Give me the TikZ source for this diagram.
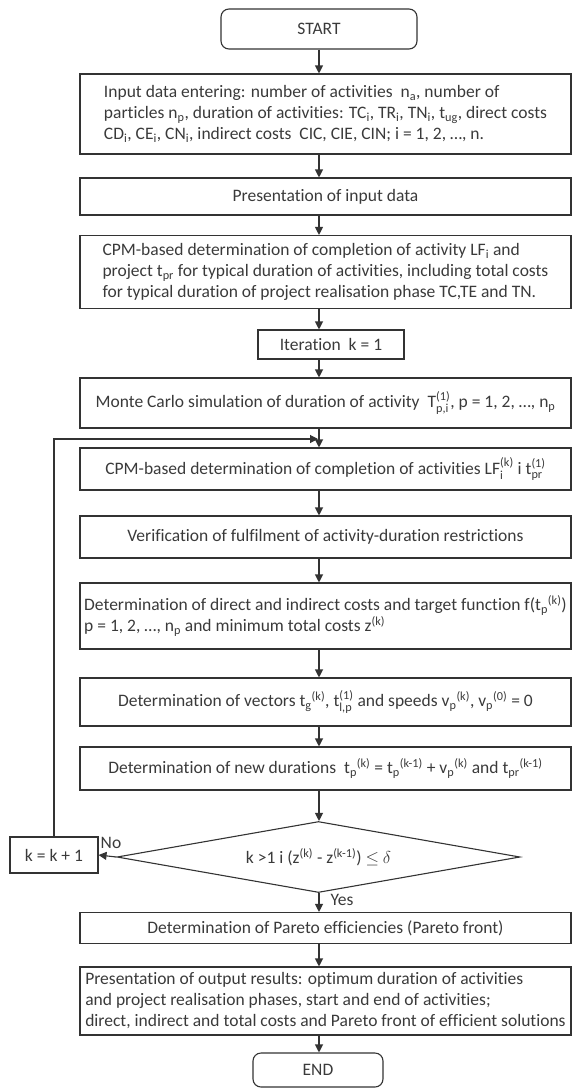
\documentclass[tikz,border=0pt]{standalone}
\usepackage{amsmath}
\usepackage{fontspec}
\setmainfont{Carlito}[Ligatures={TeX,NoCommon}]
\usetikzlibrary{arrows.meta,shapes.geometric}
\definecolor{ink}{HTML}{333333}
\definecolor{txt}{HTML}{3A3A3A}
\newcommand{\lo}[1]{\textsubscript{#1}}
\newcommand{\up}[1]{\textsuperscript{#1}}
\newcommand{\stk}[2]{$^{\text{#1}}_{\text{#2}}$}

\begin{document}
\begin{tikzpicture}[x=1pt,y=-1pt]
		\tikzstyle{every node}=[font=\fontsize{17.5}{21}\selectfont, text=txt]
		\tikzstyle{block}=[draw=ink, line width=1.1pt, inner sep=0pt, minimum width=491pt, align=left]
		\tikzstyle{term}=[block, rounded corners=8pt]
		\tikzstyle{decide}=[draw=ink, line width=1.1pt, diamond, aspect=5.68, inner sep=0pt, minimum width=403pt, minimum height=71pt]
		\tikzstyle{flow}=[draw=ink, line width=1.1pt, -{Triangle[length=8pt,width=8pt]}]
		\useasboundingbox (0,0) rectangle (572,1088);
		\coordinate (axis) at (319,0);
		\coordinate (back) at (318,439);
		\node [term, minimum width=196pt, minimum height=40pt] (start) at (319,29) {START};
		\node [block, minimum height=80pt] (input) at (325.5,114) {Input data entering: number of activities\ \ n\lo{a}, number of\\particles n\lo{p}, duration of activities: TC\lo{i}, TR\lo{i}, TN\lo{i}, t\lo{ug}, direct costs\\CD\lo{i}, CE\lo{i}, CN\lo{i}, indirect costs\ \ CIC, CIE, CIN; i = 1, 2, …, n.};
		\node [block, minimum height=37pt] (present) at (325.5,196.5) {Presentation of input data};
		\node [block, minimum height=73pt] (cpm) at (325.5,272) {CPM-based determination of completion of activity LF\lo{i} and\\project t\lo{pr} for typical duration of activities, including total costs\\for typical duration of project realisation phase TC,TE and TN.};
		\node [block, minimum width=146pt, minimum height=29pt] (iter) at (331,344.5) {Iteration\ \ k = 1};
		\node [block, minimum height=50pt] (mc) at (325.5,403) {Monte Carlo simulation of duration of activity\ \ T\stk{(1)}{p,i}, p = 1, 2, …, n\lo{p}};
		\node [block, minimum height=42pt] (cpmk) at (325.5,469) {CPM-based determination of completion of activities LF\stk{(k)}{i} i t\stk{(1)}{pr}};
		\node [block, minimum height=42pt] (verif) at (325.5,537) {Verification of fulfilment of activity-duration restrictions};
		\node [block, minimum height=66pt] (costs) at (325.5,616) {Determination of direct and indirect costs and target function f(t\lo{p}\up{(k)})\\p = 1, 2, …, n\lo{p} and minimum total costs z\up{(k)}};
		\node [block, minimum height=48pt] (vectors) at (325.5,702) {Determination of vectors t\lo{g}\up{(k)}, t\stk{(1)}{l,p} and speeds v\lo{p}\up{(k)}, v\lo{p}\up{(0)} = 0};
		\node [block, minimum height=43pt] (newdur) at (325.5,768.5) {Determination of new durations\ \ t\lo{p}\up{(k)} = t\lo{p}\up{(k-1)} + v\lo{p}\up{(k)} and t\lo{pr}\up{(k-1)}};
		\node [decide] (check) at (318.5,857) {k >1 i (z\up{(k)} - z\up{(k-1)}) $\leq$ $\delta$};
		\node [block, minimum width=88pt, minimum height=36pt] (next) at (54,855) {k = k + 1};
		\node [block, minimum height=31pt] (pareto) at (325.5,928) {Determination of Pareto efficiencies (Pareto front)};
		\node [block, minimum height=68pt] (output) at (325.5,1001) {Presentation of output results: optimum duration of activities\\and project realisation phases, start and end of activities;\\direct, indirect and total costs and Pareto front of efficient solutions};
		\node [term, minimum width=130pt, minimum height=34pt] (end) at (318,1070) {END};
		\node (no) at (111,843) {No};
		\node (yes) at (342,900) {Yes};
		\draw [flow] (axis |- start.south) -- (axis |- input.north);
		\draw [flow] (axis |- input.south) -- (axis |- present.north);
		\draw [flow] (axis |- present.south) -- (axis |- cpm.north);
		\draw [flow] (axis |- cpm.south) -- (axis |- iter.north);
		\draw [flow] (axis |- iter.south) -- (axis |- mc.north);
		\draw [flow] (axis |- mc.south) -- (axis |- cpmk.north);
		\draw [flow] (axis |- cpmk.south) -- (axis |- verif.north);
		\draw [flow] (axis |- verif.south) -- (axis |- costs.north);
		\draw [flow] (axis |- costs.south) -- (axis |- vectors.north);
		\draw [flow] (axis |- vectors.south) -- (axis |- newdur.north);
		\draw [flow] (axis |- newdur.south) -- (axis |- check.north);
		\draw [flow] (check.west) -- (next.east);
		\draw [flow] (next.north) |- (back);
		\draw [flow] (axis |- check.south) -- (axis |- pareto.north);
		\draw [flow] (axis |- pareto.south) -- (axis |- output.north);
		\draw [flow] (axis |- output.south) -- (axis |- end.north);
	\end{tikzpicture}
\end{document}
